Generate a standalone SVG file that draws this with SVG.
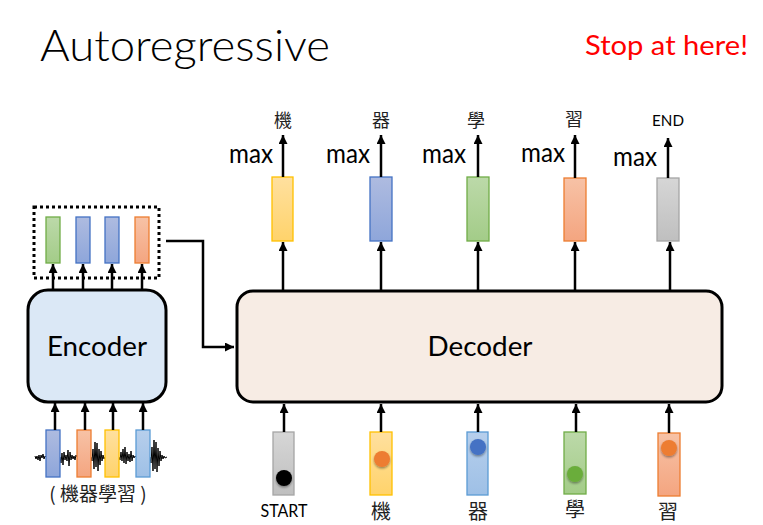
<svg xmlns="http://www.w3.org/2000/svg" width="763" height="525" viewBox="0 0 763 525">
<style>
.lat{font-family:Lato,"Liberation Sans","Noto Sans",sans-serif;fill:#000}
.cjk{font-family:"Noto Sans CJK TC","Noto Sans CJK SC",sans-serif;fill:#222}
.arr{stroke:#000;stroke-width:2.5;fill:none;marker-end:url(#ah)}
.box{stroke:#000;stroke-width:3}
.yel{fill:url(#gy);stroke:#ffc000;stroke-width:1.3}
.blu{fill:url(#gb);stroke:#4472c4;stroke-width:1.3}
.grn{fill:url(#gg);stroke:#70ad47;stroke-width:1.3}
.org{fill:url(#go);stroke:#ed7d31;stroke-width:1.3}
.gry{fill:url(#gr);stroke:#a5a5a5;stroke-width:1.3}
.lbl{fill:url(#gl);stroke:#5b9bd5;stroke-width:1.3}
.dot{filter:url(#sh)}
</style>
<defs>
<marker id="ah" markerWidth="9" markerHeight="9" refX="9" refY="4.5" orient="auto" markerUnits="userSpaceOnUse"><path d="M0,0 L9,4.5 L0,9 z" fill="#000"/></marker>
<linearGradient id="gy" x1="0" y1="0" x2="0" y2="1"><stop offset="0" stop-color="#ffe09f"/><stop offset="1" stop-color="#ffd36b"/></linearGradient>
<linearGradient id="gb" x1="0" y1="0" x2="0" y2="1"><stop offset="0" stop-color="#aebbe0"/><stop offset="1" stop-color="#8ea6da"/></linearGradient>
<linearGradient id="gg" x1="0" y1="0" x2="0" y2="1"><stop offset="0" stop-color="#bcd9a9"/><stop offset="1" stop-color="#a3cc88"/></linearGradient>
<linearGradient id="go" x1="0" y1="0" x2="0" y2="1"><stop offset="0" stop-color="#f7c2a6"/><stop offset="1" stop-color="#f4a580"/></linearGradient>
<linearGradient id="gr" x1="0" y1="0" x2="0" y2="1"><stop offset="0" stop-color="#d6d6d6"/><stop offset="1" stop-color="#bfbfbf"/></linearGradient>
<linearGradient id="gl" x1="0" y1="0" x2="0" y2="1"><stop offset="0" stop-color="#b7cfec"/><stop offset="1" stop-color="#9ec0e6"/></linearGradient>
<filter id="sh" x="-50%" y="-50%" width="200%" height="200%"><feDropShadow dx="0" dy="1.5" stdDeviation="1.2" flood-color="#000" flood-opacity="0.4"/></filter>
</defs>

<g id="title">
<text class="lat" x="40" y="61" font-size="44" font-weight="300" textLength="290" lengthAdjust="spacingAndGlyphs">Autoregressive</text>
<text class="lat" x="585" y="55" font-size="26" style="fill:#ff0000" textLength="163" lengthAdjust="spacingAndGlyphs">Stop at here!</text>
</g>

<g id="encoder">
<rect class="box" x="28" y="290" width="138" height="112" rx="20" fill="#dbe8f6"/>
<text class="lat" x="97" y="356" font-size="26" text-anchor="middle" textLength="100" lengthAdjust="spacingAndGlyphs">Encoder</text>
</g>

<g id="encoder-outputs">
<rect x="34" y="207" width="125" height="71" fill="none" stroke="#000" stroke-width="3" stroke-dasharray="3,3"/>
<rect class="grn" x="46" y="217" width="14" height="46"/>
<rect class="blu" x="76" y="217" width="14" height="46"/>
<rect class="blu" x="105" y="217" width="14" height="46"/>
<rect class="org" x="135" y="217" width="14" height="46"/>
</g>

<g id="audio-input">
<path fill="none" stroke="#000" stroke-width="1" d="M35,456 L36,459 L37,456 L38,460 L39,455 L40,461 L41,455 L42,458 L43,454 L44,459 L45,456 L46,457 L60,457 L61,463 L62,453 L63,465 L64,452 L65,460 L66,455 L67,461 L68,450 L69,466 L70,452 L71,460 L72,455 L73,459 L74,456 L75,460 L76,455 L77,457 L91,457 L92,461 L93,449 L94,469 L95,442 L96,467 L97,443 L98,471 L99,449 L100,465 L101,451 L102,461 L103,455 L104,459 L105,457 L119,457 L120,460 L121,452 L122,461 L123,449 L124,463 L125,447 L126,464 L127,452 L128,461 L129,454 L130,462 L131,451 L132,461 L133,455 L134,458 L135,456 L136,457 L150,457 L151,463 L152,447 L153,471 L154,440 L155,469 L156,442 L157,472 L158,448 L159,466 L160,451 L161,461 L162,455 L163,459 L164,456 L165,458 L167,457"/>
<rect class="blu" x="46" y="430" width="14" height="47"/>
<rect class="org" x="77" y="430" width="14" height="47"/>
<rect class="yel" x="105" y="430" width="14" height="47"/>
<rect class="lbl" x="136" y="430" width="14" height="47"/>
<text class="cjk" x="98" y="501" font-size="19" text-anchor="middle">( 機器學習 )</text>
</g>

<g id="decoder">
<rect class="box" x="237" y="291" width="485" height="111" rx="16" fill="#f7ece4"/>
<text class="lat" x="480" y="356" font-size="26" text-anchor="middle" textLength="105" lengthAdjust="spacingAndGlyphs">Decoder</text>
</g>

<g id="out1"><rect class="yel" x="272" y="177" width="21" height="64"/>
<text class="lat" x="229" y="163" font-size="27" textLength="44" lengthAdjust="spacingAndGlyphs">max</text>
<text class="cjk" x="283" y="127" font-size="18" text-anchor="middle">機</text></g>
<g id="out2"><rect class="blu" x="370" y="177" width="22" height="64"/>
<text class="lat" x="326" y="163" font-size="27" textLength="44" lengthAdjust="spacingAndGlyphs">max</text>
<text class="cjk" x="381" y="127" font-size="18" text-anchor="middle">器</text></g>
<g id="out3"><rect class="grn" x="467" y="177" width="22" height="64"/>
<text class="lat" x="422" y="163" font-size="27" textLength="44" lengthAdjust="spacingAndGlyphs">max</text>
<text class="cjk" x="476" y="127" font-size="18" text-anchor="middle">學</text></g>
<g id="out4"><rect class="org" x="564" y="178" width="22" height="63"/>
<text class="lat" x="521" y="162" font-size="27" textLength="44" lengthAdjust="spacingAndGlyphs">max</text>
<text class="cjk" x="574" y="126" font-size="18" text-anchor="middle">習</text></g>
<g id="out5"><rect class="gry" x="657" y="178" width="22" height="63"/>
<text class="lat" x="613" y="166" font-size="27" textLength="44" lengthAdjust="spacingAndGlyphs">max</text>
<text class="lat" x="668" y="126" font-size="15" text-anchor="middle" textLength="32" lengthAdjust="spacingAndGlyphs">END</text></g>

<g id="in1"><rect class="gry" x="273" y="432" width="21" height="63"/>
<circle class="dot" cx="284" cy="478" r="8" fill="#000"/>
<text class="lat" x="284" y="517" font-size="18" text-anchor="middle" textLength="47" lengthAdjust="spacingAndGlyphs">START</text></g>
<g id="in2"><rect class="yel" x="370" y="432" width="22" height="63"/>
<circle class="dot" cx="382" cy="459" r="8" fill="#ed7d31"/>
<text class="cjk" x="381" y="519" font-size="20" text-anchor="middle">機</text></g>
<g id="in3"><rect class="lbl" x="467" y="432" width="21" height="63"/>
<circle class="dot" cx="478" cy="447" r="8" fill="#4472c4"/>
<text class="cjk" x="478" y="519" font-size="20" text-anchor="middle">器</text></g>
<g id="in4"><rect class="grn" x="564" y="432" width="22" height="62"/>
<circle class="dot" cx="575" cy="474" r="8" fill="#6aad3a"/>
<text class="cjk" x="575" y="517" font-size="20" text-anchor="middle">學</text></g>
<g id="in5"><rect class="org" x="658" y="433" width="22" height="63"/>
<circle class="dot" cx="669" cy="448" r="8" fill="#ed7d31"/>
<text class="cjk" x="668" y="519" font-size="20" text-anchor="middle">習</text></g>

<g id="connectors">
<line class="arr" x1="53" y1="289" x2="53" y2="264"/>
<line class="arr" x1="83" y1="289" x2="83" y2="264"/>
<line class="arr" x1="112" y1="289" x2="112" y2="264"/>
<line class="arr" x1="142" y1="289" x2="142" y2="264"/>
<line class="arr" x1="55" y1="430" x2="55" y2="403"/>
<line class="arr" x1="85" y1="430" x2="85" y2="403"/>
<line class="arr" x1="113" y1="430" x2="113" y2="403"/>
<line class="arr" x1="143" y1="430" x2="143" y2="403"/>
<polyline class="arr" points="166,241 203,241 203,347 234,347"/>
<line class="arr" x1="283" y1="290" x2="283" y2="242"/>
<line class="arr" x1="381" y1="290" x2="381" y2="242"/>
<line class="arr" x1="478" y1="290" x2="478" y2="242"/>
<line class="arr" x1="575" y1="290" x2="575" y2="242"/>
<line class="arr" x1="670" y1="290" x2="670" y2="242"/>
<line class="arr" x1="283" y1="177" x2="283" y2="135"/>
<line class="arr" x1="381" y1="177" x2="381" y2="135"/>
<line class="arr" x1="478" y1="177" x2="478" y2="135"/>
<line class="arr" x1="575" y1="178" x2="575" y2="135"/>
<line class="arr" x1="668" y1="178" x2="668" y2="138"/>
<line class="arr" x1="284" y1="432" x2="284" y2="404"/>
<line class="arr" x1="381" y1="432" x2="381" y2="404"/>
<line class="arr" x1="478" y1="432" x2="478" y2="404"/>
<line class="arr" x1="576" y1="432" x2="576" y2="404"/>
<line class="arr" x1="669" y1="433" x2="669" y2="404"/>
</g>
</svg>
